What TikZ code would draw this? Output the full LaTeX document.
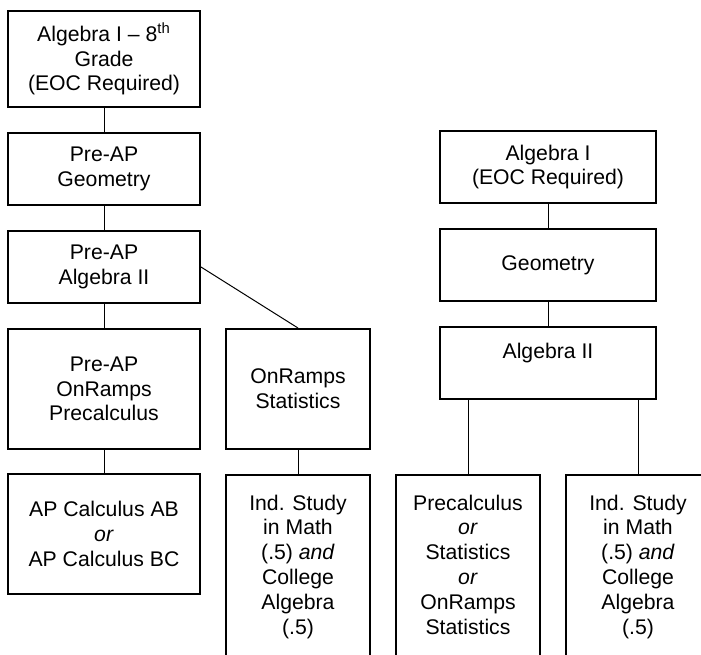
\documentclass[tikz,border=0pt]{standalone}
\usepackage{fontspec}
\setmainfont{Liberation Sans}
\usepackage{tikz}
\usetikzlibrary{positioning}
\tikzstyle{block} = [rectangle, draw, line width=1pt, align=center, inner sep=2pt, font=\fontsize{10.6}{12.4}\selectfont]
\tikzstyle{wide} = [block, minimum width=96pt]
\tikzstyle{narrow} = [block, minimum width=72pt]
\tikzstyle{broad} = [block, minimum width=108pt, minimum height=36pt]
\tikzstyle{tall} = [narrow, minimum height=95.5pt]
\tikzstyle{line} = [draw, line width=0.5pt]
\newcommand{\lowpad}{\rule[-6pt]{0pt}{6pt}}
\begin{document}
\begin{tikzpicture}[node distance=12pt]
\useasboundingbox (0,0) rectangle (350.5pt,-327pt);
\clip (0,0) rectangle (350.5pt,-327pt);
% left column
\node [wide, minimum height=48pt] at (52pt,-29.5pt) (alg8) {Algebra I \textendash{} 8\textsuperscript{th}\\Grade\\(EOC Required)};
\node [wide, minimum height=36pt, below=of alg8] (pgeo) {Pre-AP\\Geometry};
\node [wide, minimum height=36pt, below=of pgeo] (palg2) {Pre-AP\\Algebra II};
\node [wide, minimum height=60pt, below=of palg2] (pprecalc) {Pre-AP\\OnRamps\\Precalculus};
\node [wide, minimum height=60pt, below=11.5pt of pprecalc] (apcalc) {AP Calculus AB\\\textit{or}\\AP Calculus BC};
\node [narrow, minimum height=60pt, right=of pprecalc] (onstat) {OnRamps\\Statistics};
\node [tall, below=of onstat] (indstudy) {Ind. Study\\in Math\\(.5) \textit{and}\\College\\Algebra\\(.5)\lowpad};
% right column
\node [broad] at (274pt,-83.5pt) (alg1) {Algebra I\\(EOC Required)};
\node [broad, below=of alg1] (geo) {Geometry};
\node [broad, below=of geo] (alg2) {Algebra II\\\mbox{}};
\node [tall, right=of indstudy] (precalc) {Precalculus\\\textit{or}\\Statistics\\\textit{or}\\OnRamps\\Statistics\lowpad};
\node [tall, right=of precalc] (indstudyb) {Ind. Study\\in Math\\(.5) \textit{and}\\College\\Algebra\\(.5)\lowpad};

\path [line] (alg8) -- (pgeo);
\path [line] (pgeo) -- (palg2);
\path [line] (palg2) -- (pprecalc);
\path [line] (pprecalc) -- (apcalc);
\path [line] (palg2.east) -- (onstat.north);
\path [line] (onstat) -- (indstudy);
\path [line] (alg1) -- (geo);
\path [line] (geo) -- (alg2);
\path [line] (precalc.north |- alg2.south) -- (precalc.north);
\path [line] (indstudyb.north |- alg2.south) -- (indstudyb.north);
\end{tikzpicture}
\end{document}
